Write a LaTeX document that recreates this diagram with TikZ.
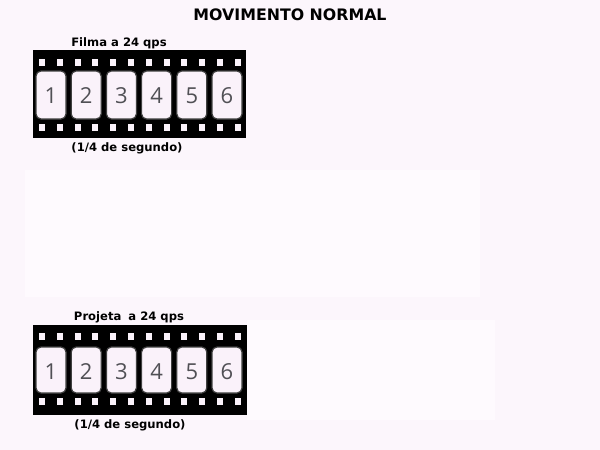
\documentclass[tikz,border=0pt]{standalone}
\usepackage{fontspec}
\setmainfont{DejaVu Sans}
\newfontfamily\digitfont{Open Sans}
\definecolor{bgpink}{RGB}{252,246,252}
\definecolor{panel}{RGB}{254,250,254}
\definecolor{framefill}{RGB}{250,242,250}
\definecolor{digitgray}{RGB}{80,80,85}

\tikzset{
  strip/.style={fill=black},
  hole/.style={fill=framefill},
  cell/.style={draw=black!75,line width=1.2pt,fill=framefill,rounded corners=5pt},
  caption/.style={anchor=base,font=\bfseries\fontsize{11.6}{13}\selectfont},
  digit/.style={anchor=base,font=\digitfont\fontsize{22}{24}\selectfont,text=digitgray}
}

\begin{document}
\begin{tikzpicture}[x=1pt,y=-1pt,line join=round]
  \useasboundingbox[fill=bgpink] (0,0) rectangle (600,450);
  \fill[panel] (25,170) rectangle (480,297);
  \fill[panel] (247,320) rectangle (495,420);
  \node[anchor=base,font=\bfseries\fontsize{15.8}{18}\selectfont] (title) at (290,20) {MOVIMENTO NORMAL};
  % film strip shot
  \node[caption] (filma) at (119,46) {Filma a 24 qps};
  \fill[strip] (33,50) rectangle (246,138);
  \foreach \i in {0,...,11} {
    \fill[hole] ({39+17.8*\i},59) rectangle +(6,7);
    \fill[hole] ({39+17.8*\i},124) rectangle +(6,7);
  }
  \foreach \n in {1,...,6} {
    \draw[cell] ({36+35.2*(\n-1)},71) rectangle +(30,48);
    \node[digit] (top\n) at ({51+35.2*(\n-1)},103) {\n};
  }
  \node[caption] (timeA) at (127,151) {(1/4 de segundo)};
  % film strip projected
  \node[caption] (projeta) at (129,320) {Projeta\hspace{3pt} a 24 qps};
  \fill[strip] (33,325) rectangle (247,415);
  \foreach \i in {0,...,11} {
    \fill[hole] ({39+17.8*\i},333) rectangle +(6,7);
    \fill[hole] ({39+17.8*\i},398) rectangle +(6,7);
  }
  \foreach \n in {1,...,6} {
    \draw[cell] ({36+35.2*(\n-1)},347) rectangle +(30,46);
    \node[digit] (bot\n) at ({51+35.2*(\n-1)},379) {\n};
  }
  \node[caption] (timeB) at (130,428) {(1/4 de segundo)};
\end{tikzpicture}
\end{document}
